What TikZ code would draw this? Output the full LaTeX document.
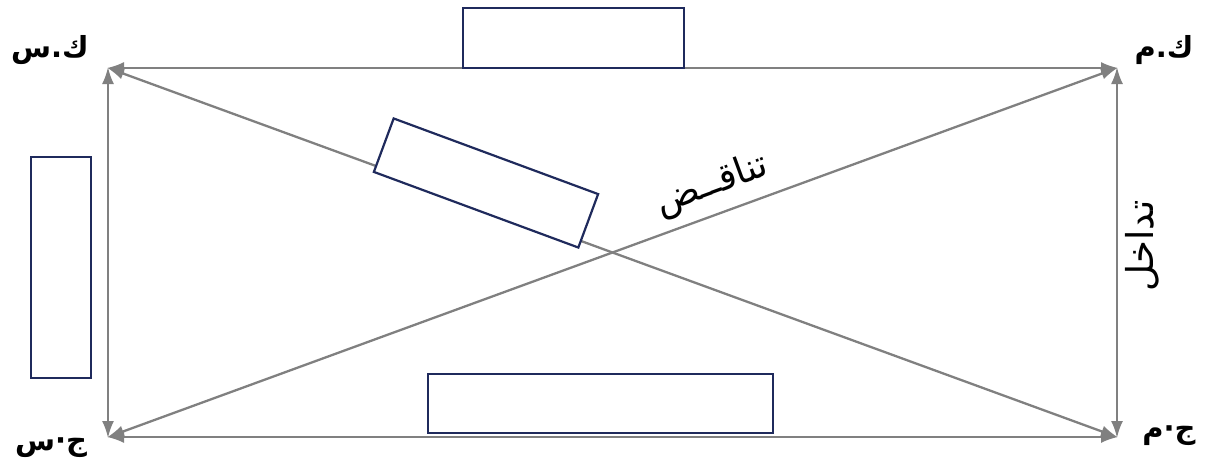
\documentclass[tikz,border=0pt]{standalone}
\usepackage{fontspec}
\usetikzlibrary{arrows.meta}
\TeXXeTstate=1
\newfontfamily\arfont[Script=Arabic]{DejaVu Sans}
\definecolor{linegray}{HTML}{808080}
\definecolor{boxnavy}{HTML}{1F2A5C}
\tikzset{
  rel/.style={draw=linegray, line width=2.3pt, {Latex[length=17pt,width=12pt]}-{Latex[length=17pt,width=12pt]}, shorten <=-1pt, shorten >=-1pt},
  blank/.style={draw=boxnavy, line width=2.2pt, fill=white, inner sep=0pt},
  corner/.style={font=\arfont\bfseries\fontsize{29}{32}\selectfont, inner sep=0pt},
  rellabel/.style={font=\arfont\fontsize{37}{40}\selectfont, inner sep=0pt}
}
\begin{document}
\begin{tikzpicture}[x=1pt,y=-1pt]
\useasboundingbox (0,0) rectangle (1208,466);
\coordinate (TL) at (108,68);
\coordinate (TR) at (1117,68);
\coordinate (BL) at (108,437);
\coordinate (BR) at (1117,437);
\draw[rel] (TL) -- (TR);
\draw[rel] (BL) -- (BR);
\draw[rel] (TL) -- (BL);
\draw[rel] (TR) -- (BR);
\draw[rel] (TL) -- (BR);
\draw[rel] (BL) -- (TR);
\node[blank, minimum width=221pt, minimum height=60pt] (btop) at (573.5,38) {};
\node[blank, minimum width=60pt, minimum height=221pt] (bleft) at (61,267.5) {};
\node[blank, minimum width=345pt, minimum height=59pt] (bbot) at (600.5,403.5) {};
\node[blank, minimum width=218pt, minimum height=57pt, rotate=-20.3] (bdiag) at (486,183) {};
\node[corner] (ks) at (50,50) {\beginR ك.س\endR};
\node[corner] (km) at (1164,50) {\beginR ك.م\endR};
\node[corner] (js) at (51,448) {\beginR ج·س\endR};
\node[corner] (jm) at (1169,436) {\beginR ج·م\endR};
\node[rellabel, rotate=20.1] (tanaqud) at (712,185) {\beginR تناقــض\endR};
\node[rellabel, rotate=90] (tadakhul) at (1142,246) {\beginR تداخل\endR};
\end{tikzpicture}
\end{document}
